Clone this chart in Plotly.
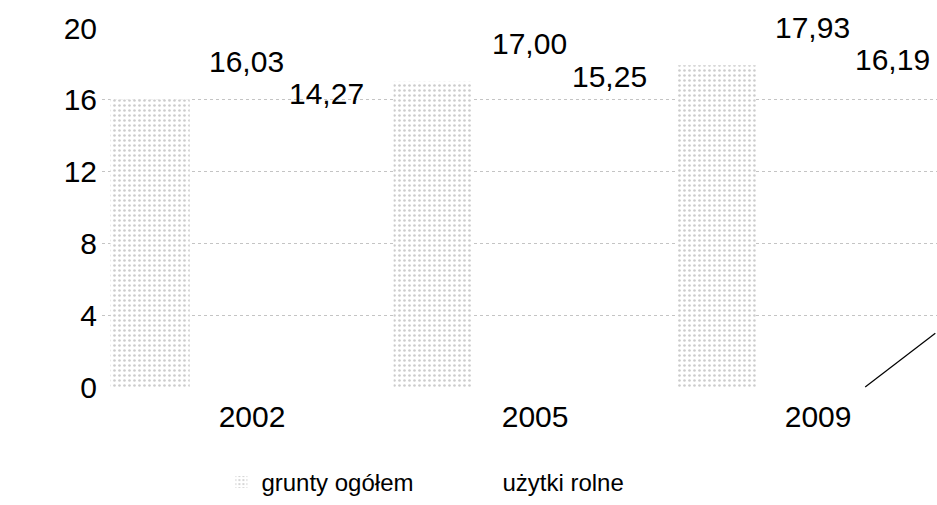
import plotly.graph_objects as go

years = ["2002", "2005", "2009"]
grunty = [16.03, 17.00, 17.93]
uzytki = [14.27, 15.25, 16.19]
labels_grunty = ["16,03", "17,00", "17,93"]
labels_uzytki = ["14,27", "15,25", "16,19"]
yticks = [0, 4, 8, 12, 16, 20]

xpos = list(range(len(years)))
FONT = "Liberation Sans, Arial, sans-serif"

fig = go.Figure()
fig.add_trace(go.Bar(
    name="grunty ogółem", x=xpos, y=grunty, offset=-0.5, width=0.28,
    marker=dict(color="white", line=dict(width=0),
                pattern=dict(shape=".", fgcolor="#9a9a9a", bgcolor="white",
                             size=5, solidity=0.22)),
    hoverinfo="skip",
))
fig.add_trace(go.Bar(
    name="użytki rolne", x=xpos, y=uzytki, offset=-0.22, width=0.28,
    marker=dict(color="rgba(255,255,255,0)", line=dict(width=0)),
    hoverinfo="skip",
))

annotations = []
for i in xpos:
    annotations.append(dict(x=i, y=grunty[i], text=labels_grunty[i], showarrow=False,
                            xshift=-6, yshift=38, yanchor="middle", xanchor="center",
                            font=dict(family=FONT, size=30, color="black")))
    annotations.append(dict(x=i, y=uzytki[i], text=labels_uzytki[i], showarrow=False,
                            xshift=74, yshift=37, yanchor="middle", xanchor="center",
                            font=dict(family=FONT, size=30, color="black")))

fig.update_layout(
    width=937, height=505,
    margin=dict(l=102, r=0, t=28, b=118, autoexpand=False),
    paper_bgcolor="white", plot_bgcolor="white",
    barmode="overlay",
    font=dict(family=FONT, size=30, color="black"),
    xaxis=dict(range=[-0.53, 2.42], tickvals=xpos, ticktext=years,
               showgrid=False, zeroline=False, showline=False, ticks="",
               ticklabelstandoff=9, tickfont=dict(size=30), automargin=False),
    yaxis=dict(range=[0, 20], tickvals=yticks, ticktext=[str(v) for v in yticks],
               showgrid=True, gridcolor="#c4c4c4", griddash="dot", gridwidth=1,
               zeroline=False, showline=False, ticks="", ticklabelstandoff=4,
               tickfont=dict(size=30), automargin=False),
    showlegend=True,
    legend=dict(orientation="h", x=0.143, xanchor="left",
                yref="container", y=-0.014, yanchor="bottom",
                font=dict(size=24), entrywidth=196, entrywidthmode="pixels",
                bgcolor="rgba(0,0,0,0)", borderwidth=0),
    annotations=annotations,
    shapes=[dict(type="line", xref="paper", yref="paper", x0=0.914, y0=0.0,
                 x1=0.998, y1=0.15, line=dict(color="black", width=1.2))],
)

fig.write_html("out.html", config={"displayModeBar": False},
               post_script="document.body.style.margin='0';")
